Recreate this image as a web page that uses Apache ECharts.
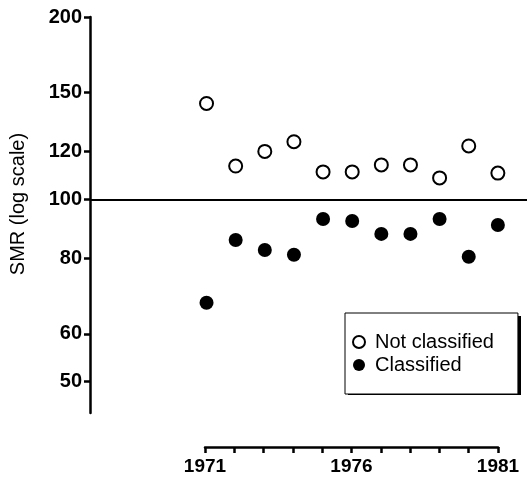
<!DOCTYPE html>
<html>
<head>
<meta charset="utf-8">
<script src="https://cdn.jsdelivr.net/npm/echarts@6/dist/echarts.min.js"></script>
<style>
  html, body { margin: 0; padding: 0; background: #fff; }
  #main { width: 531px; height: 477px; }
</style>
</head>
<body>
<div id="main"></div>
<script>
// data
var years = [1971, 1972, 1973, 1974, 1975, 1976, 1977, 1978, 1979, 1980, 1981];
var notClassified = [144, 113.5, 120, 124.5, 111, 111, 114, 114, 108.5, 122.5, 110.5];
var classified = [67.5, 85.7, 82.5, 81, 92.8, 92.1, 87.7, 87.7, 92.8, 80.4, 90.7];
var yTicks = [50, 60, 80, 100, 120, 150, 200];
var xLabelYears = [1971, 1976, 1981];

function pairs(xs, ys) {
  return xs.map(function (x, i) { return [x, ys[i]]; });
}

var myChart = echarts.init(document.getElementById('main'));

var option = {
  animation: false,
  textStyle: { fontFamily: 'Liberation Sans', color: '#000' },
  grid: [
    { left: 88, right: 4, top: 17, bottom: 64 },
    { left: 205, right: 33, top: 446, height: 1 }
  ],
  // drop shadow behind the legend box
  graphic: [{
    type: 'rect', z: 0,
    shape: { x: 348, y: 316, width: 173, height: 79 },
    style: { fill: '#000' }
  }],
  xAxis: [
    { gridIndex: 0, type: 'value', min: 1967, max: 1982, show: false },
    {
      gridIndex: 1, type: 'value', min: 1971, max: 1981, interval: 1,
      position: 'bottom',
      axisLine: { lineStyle: { color: '#000', width: 2.5 } },
      axisTick: { length: 6, lineStyle: { color: '#000', width: 2.5 } },
      axisLabel: {
        margin: 10, color: '#000', fontSize: 19, fontWeight: 'bold',
        formatter: function (v) { return xLabelYears.indexOf(v) >= 0 ? String(v) : ''; }
      },
      splitLine: { show: false }
    }
  ],
  yAxis: [
    {
      gridIndex: 0, type: 'log', logBase: 10, min: 44.4, max: 200,
      name: 'SMR (log scale)', nameLocation: 'middle', nameGap: 62,
      nameTextStyle: { fontSize: 20, color: '#000', padding: [0, 0, 0, 22] },
      axisLine: { show: true, lineStyle: { color: '#000', width: 2.5 } },
      axisTick: { show: true, length: 6, customValues: yTicks, lineStyle: { color: '#000', width: 2.5 } },
      axisLabel: { customValues: yTicks, color: '#000', fontSize: 20, fontWeight: 'bold', margin: 8 },
      splitLine: { show: false }
    },
    { gridIndex: 1, type: 'value', min: 0, max: 1, show: false }
  ],
  legend: {
    orient: 'vertical',
    left: 345, top: 313,
    z: 5,
    padding: [19, 24, 19, 7],
    itemGap: 3,
    itemWidth: 22, itemHeight: 12,
    backgroundColor: '#fff',
    borderColor: '#000', borderWidth: 1,
    textStyle: { fontSize: 20, color: '#000', fontFamily: 'Liberation Sans' },
    data: ['Not classified', 'Classified']
  },
  series: [
    {
      name: 'Not classified',
      type: 'scatter',
      xAxisIndex: 0, yAxisIndex: 0,
      symbol: 'circle', symbolSize: 13,
      itemStyle: { color: '#fff', borderColor: '#000', borderWidth: 2, opacity: 1 },
      data: pairs(years, notClassified),
      markLine: {
        silent: true,
        symbol: 'none',
        label: { show: false },
        lineStyle: { color: '#000', width: 2, type: 'solid' },
        data: [{ yAxis: 100 }]
      }
    },
    {
      name: 'Classified',
      type: 'scatter',
      xAxisIndex: 0, yAxisIndex: 0,
      symbol: 'circle', symbolSize: 14,
      itemStyle: { color: '#000', opacity: 1 },
      data: pairs(years, classified)
    }
  ]
};

myChart.setOption(option);
</script>
</body>
</html>
